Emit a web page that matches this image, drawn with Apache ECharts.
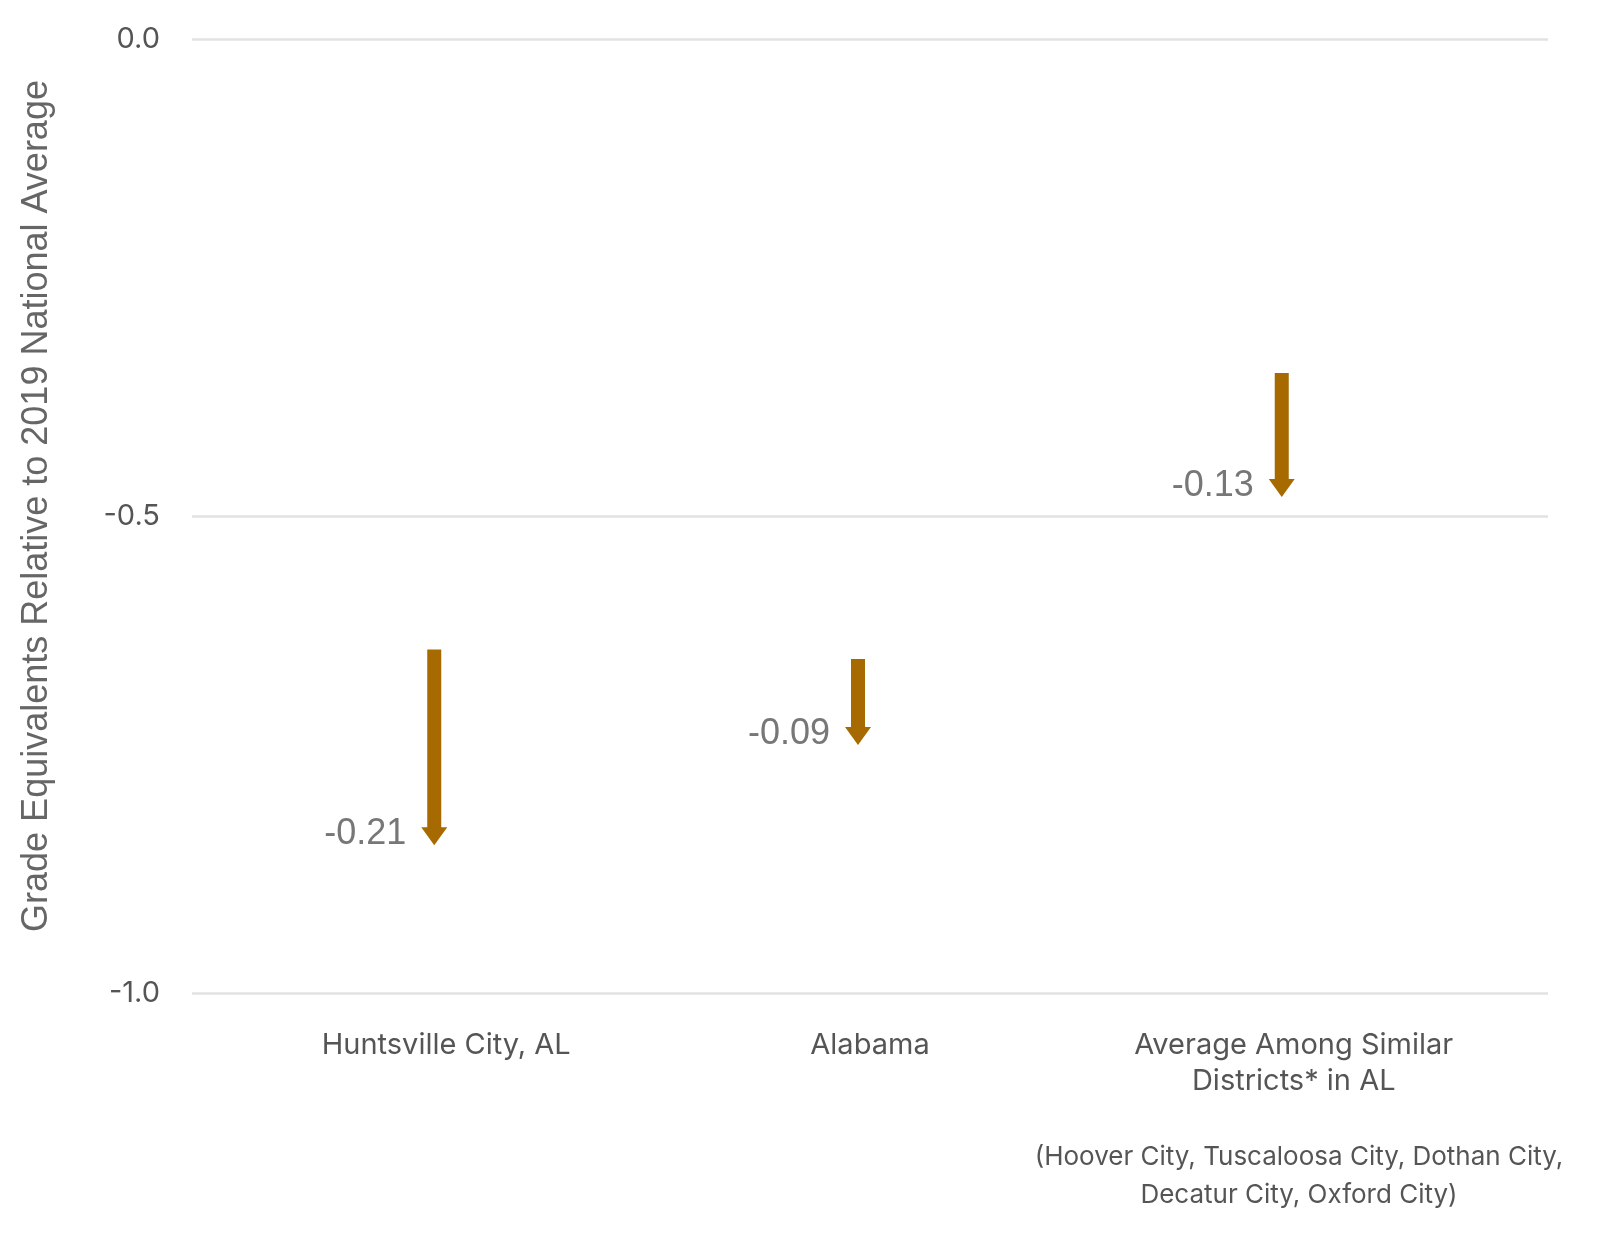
<!DOCTYPE html>
<html>
<head>
<meta charset="utf-8">
<script src="https://cdn.jsdelivr.net/npm/echarts@6/dist/echarts.min.js"></script>
<style>html,body{margin:0;padding:0;background:#fff}#c{width:1600px;height:1234px}</style>
</head>
<body>
<div id="c"></div>
<script>
var categories = ['Huntsville City, AL', 'Alabama', 'Average Among Similar\nDistricts* in AL'];
var startValues = [-0.64, -0.65, -0.35];
var endValues = [-0.845, -0.74, -0.48];
var changeLabels = ['-0.21', '-0.09', '-0.13'];
var yTicks = [0, -0.5, -1.0];

var ARROW = '#A66A00';
var chart = echarts.init(document.getElementById('c'), null, {renderer: 'canvas'});
var data = categories.map(function (c, i) { return [i, startValues[i], endValues[i], i]; });

chart.setOption({
  animation: false,
  grid: {left: 192, right: 52, top: 39, bottom: 241, containLabel: false},
  xAxis: {
    type: 'value', min: -0.6, max: 2.6,
    axisLine: {show: false}, axisTick: {show: false}, splitLine: {show: false},
    axisLabel: {
      customValues: [0, 1, 2],
      formatter: function (v) { return categories[Math.round(v)]; },
      fontFamily: 'Inter', fontSize: 29, color: '#555', margin: 34, lineHeight: 36
    }
  },
  yAxis: {
    type: 'value', min: -1, max: 0, interval: 0.5,
    axisLine: {show: false}, axisTick: {show: false},
    splitLine: {lineStyle: {color: '#e2e2e2', width: 2.5}},
    axisLabel: {
      formatter: function (v) { return v.toFixed(1); },
      fontFamily: 'Inter', fontSize: 29, color: '#555', margin: 32
    },
    name: 'Grade Equivalents Relative to 2019 National Average',
    nameLocation: 'middle', nameGap: 137, nameRotate: 90,
    nameTextStyle: {fontFamily: 'Liberation Sans', fontSize: 36, color: '#666', padding: [0, 0, 0, 20]}
  },
  series: [{
    type: 'custom',
    data: data,
    encode: {x: 0, y: [1, 2]},
    renderItem: function (params, api) {
      var x = api.value(0);
      var p0 = api.coord([x, api.value(1)]);
      var p1 = api.coord([x, api.value(2)]);
      var cx = p0[0] - 12;
      var headH = 18, headW = 26, shaftW = 14;
      var idx = api.value(3);
      return {
        type: 'group',
        children: [
          {type: 'rect', shape: {x: cx - shaftW / 2, y: p0[1], width: shaftW, height: p1[1] - p0[1] - headH + 1}, style: {fill: ARROW}},
          {type: 'polygon', shape: {points: [[cx - headW / 2, p1[1] - headH], [cx + headW / 2, p1[1] - headH], [cx, p1[1]]]}, style: {fill: ARROW}},
          {type: 'text', x: cx - 28, y: p1[1] - 11, style: {text: changeLabels[idx], fontFamily: 'Liberation Sans', fontSize: 36, fill: '#777', align: 'right', verticalAlign: 'middle'}}
        ]
      };
    }
  }],
  graphic: [{
    type: 'text', x: 1299, y: 1138,
    style: {text: '(Hoover City, Tuscaloosa City, Dothan City,\nDecatur City, Oxford City)', fontFamily: 'Inter', fontSize: 26, fill: '#555', align: 'center', verticalAlign: 'top', lineHeight: 38}
  }]
});
</script>
</body>
</html>
